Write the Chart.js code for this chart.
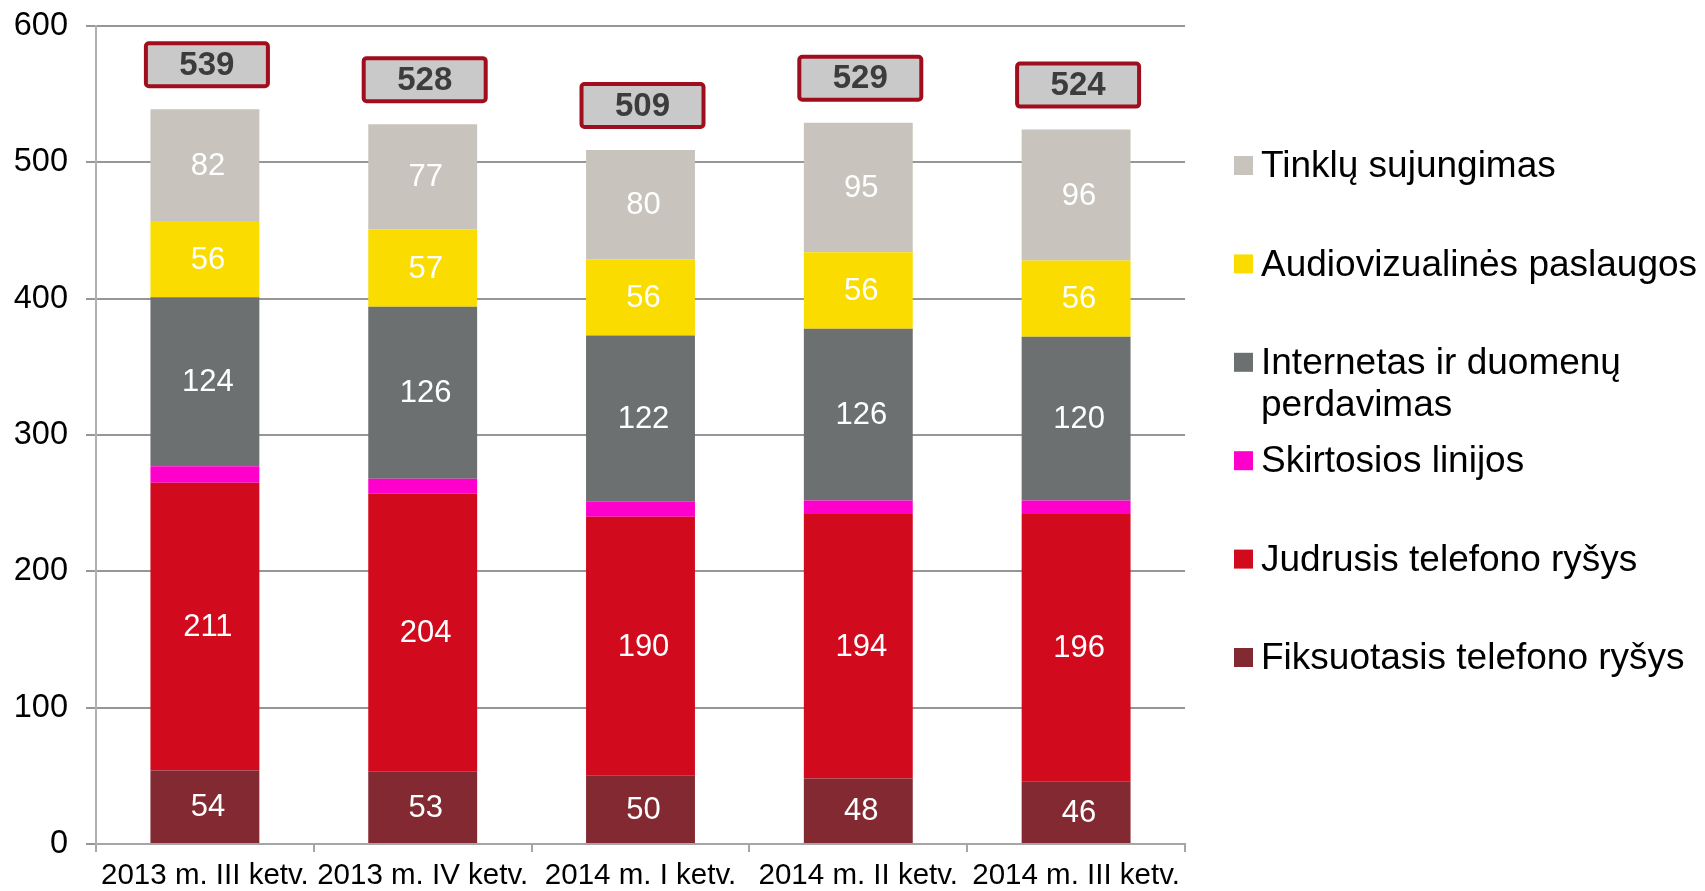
<!DOCTYPE html>
<html>
<head>
<meta charset="utf-8">
<script src="https://cdn.jsdelivr.net/npm/chart.js@4/dist/chart.umd.min.js"></script>
<style>
  body { margin: 0; background: #fff; }
  #chart { display: block; }
</style>
</head>
<body>
<canvas id="chart" width="1705" height="891"></canvas>
<script>
// categories and series (stacked from bottom to top)
var quarters = ['2013 m. III ketv.', '2013 m. IV ketv.', '2014 m. I ketv.', '2014 m. II ketv.', '2014 m. III ketv.'];
var fiksuotasis = [54, 53, 50, 48, 46];
var judrusis = [211, 204, 190, 194, 196];
var skirtosios = [12, 11, 11, 10, 10];
var internetas = [124, 126, 122, 126, 120];
var audiovizualines = [56, 57, 56, 56, 56];
var tinklu = [82, 77, 80, 95, 96];
var totals = [539, 528, 509, 529, 524];
var yTicks = [0, 100, 200, 300, 400, 500, 600];

var seriesNames = ['Fiksuotasis telefono ryšys', 'Judrusis telefono ryšys', 'Skirtosios linijos',
  'Internetas ir duomenų perdavimas', 'Audiovizualinės paslaugos', 'Tinklų sujungimas'];
var seriesColors = ['#832932', '#d20a1e', '#ff00cc', '#6d7070', '#fadc00', '#c8c4bd'];
var seriesData = [fiksuotasis, judrusis, skirtosios, internetas, audiovizualines, tinklu];
var showValues = [true, true, false, true, true, true];

var FONT = '"Liberation Sans", Arial, sans-serif';

var datasets = seriesData.map(function(d, i) {
  return {
    label: seriesNames[i],
    data: d,
    backgroundColor: seriesColors[i],
    borderWidth: 0,
    barPercentage: 0.5,
    categoryPercentage: 1.0
  };
});

// white numbers inside the segments + framed totals above bars
var valueLabels = {
  id: 'valueLabels',
  afterDatasetsDraw: function(chart) {
    var ctx = chart.ctx;
    ctx.save();
    ctx.textAlign = 'center';
    ctx.textBaseline = 'middle';
    ctx.font = '31px ' + FONT;
    ctx.fillStyle = '#ffffff';
    chart.data.datasets.forEach(function(ds, i) {
      if (!showValues[i]) return;
      chart.getDatasetMeta(i).data.forEach(function(bar, j) {
        ctx.fillText(String(ds.data[j]), bar.x + 3, (bar.y + bar.base) / 2 + 1);
      });
    });

    var yScale = chart.scales.y;
    var topMeta = chart.getDatasetMeta(chart.data.datasets.length - 1);
    ctx.font = 'bold 33px ' + FONT;
    totals.forEach(function(t, j) {
      var x = topMeta.data[j].x + 2;
      var bottom = yScale.getPixelForValue(t) - 23;
      var w = 122, h = 43;
      ctx.beginPath();
      ctx.roundRect(x - w / 2, bottom - h, w, h, 3);
      ctx.fillStyle = '#c9c9c9';
      ctx.fill();
      ctx.lineWidth = 4;
      ctx.strokeStyle = '#a00d1c';
      ctx.stroke();
      ctx.fillStyle = '#3c3c3c';
      ctx.fillText(String(t), x, bottom - h / 2 + 1);
    });
    ctx.restore();
  }
};

// legend on the right, top item = top of the stack
var sideLegend = {
  id: 'sideLegend',
  afterDraw: function(chart) {
    var ctx = chart.ctx;
    ctx.save();
    ctx.font = '37px ' + FONT;
    ctx.textAlign = 'left';
    ctx.textBaseline = 'middle';
    var x0 = 1234, tx = 1261, y = 165, step = 98.4, maxW = 450;
    for (var i = seriesNames.length - 1; i >= 0; i--) {
      ctx.fillStyle = seriesColors[i];
      ctx.fillRect(x0, y - 9, 19, 19);
      // simple word wrap
      var words = seriesNames[i].split(' '), lines = [], line = '';
      words.forEach(function(w) {
        var test = line ? line + ' ' + w : w;
        if (ctx.measureText(test).width > maxW && line) { lines.push(line); line = w; }
        else line = test;
      });
      lines.push(line);
      ctx.fillStyle = '#000000';
      lines.forEach(function(l, k) { ctx.fillText(l, tx, y + 2 + k * 42); });
      y += step;
    }
    ctx.restore();
  }
};

new Chart(document.getElementById('chart'), {
  type: 'bar',
  data: { labels: quarters, datasets: datasets },
  options: {
    responsive: false,
    animation: false,
    devicePixelRatio: 1,
    layout: { padding: { top: 26, right: 520, bottom: 0, left: 0 } },
    plugins: {
      legend: { display: false },
      tooltip: { enabled: false }
    },
    scales: {
      x: {
        stacked: true,
        afterFit: function(s) { s.height = 47; },
        grid: { drawOnChartArea: false, offset: true, tickLength: 8, color: '#a6a6a6', lineWidth: 2 },
        border: { color: '#a6a6a6', width: 2 },
        ticks: {
          autoSkip: false, maxRotation: 0, padding: 6,
          color: '#000000',
          font: { family: FONT, size: 29.5 }
        }
      },
      y: {
        stacked: true,
        min: 0,
        max: 600,
        afterFit: function(s) {
          s.width = 96;
          s.paddingTop = 0;
          s.paddingBottom = 0;
        },
        afterBuildTicks: function(s) { s.ticks = yTicks.map(function(v) { return { value: v }; }); },
        grid: { color: '#969696', lineWidth: 2, tickLength: 10 },
        border: { color: '#b0b0b0', width: 2 },
        ticks: {
          padding: 18,
          color: '#000000',
          font: { family: FONT, size: 32.5 }
        }
      }
    }
  },
  plugins: [valueLabels, sideLegend]
});
</script>
</body>
</html>
